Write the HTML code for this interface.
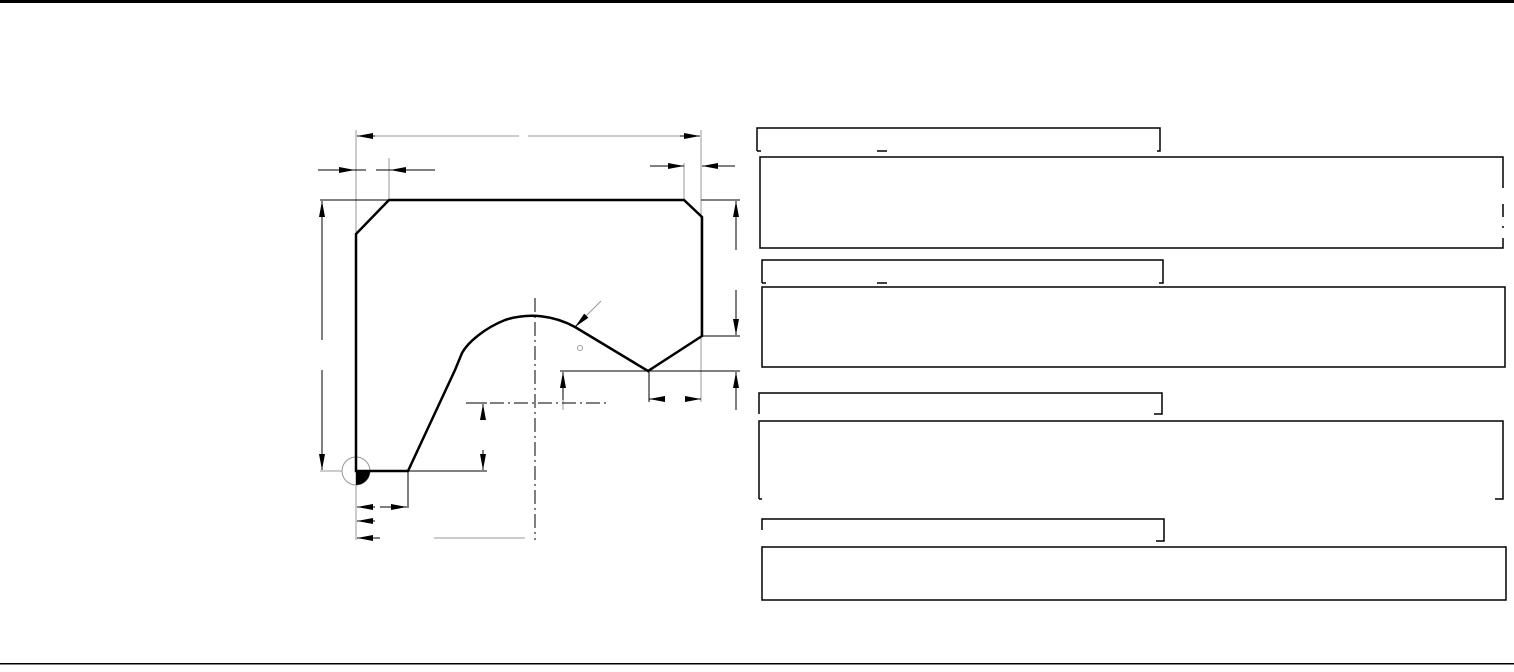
<!DOCTYPE html>
<html><head><meta charset="utf-8"><style>
html,body{margin:0;padding:0;background:#fff;}
svg{display:block;}
</style></head><body>
<svg width="1514" height="672" viewBox="0 0 1514 672" xmlns="http://www.w3.org/2000/svg">
<defs>
<marker id="a" viewBox="0 0 16 6" refX="16" refY="3" markerWidth="16" markerHeight="6" markerUnits="userSpaceOnUse" orient="auto"><path d="M0,0 L16,3 L0,6z" fill="#000"/></marker>
</defs>
<rect x="0" y="0" width="1514" height="3" fill="#000"/>
<rect x="0" y="663" width="1514" height="1.5" fill="#000"/>

<g stroke="#999" stroke-width="1" fill="none">
<line x1="356" y1="130" x2="356" y2="540"/>
<line x1="701" y1="130" x2="701" y2="402"/>
<line x1="357" y1="136" x2="519" y2="136"/>
<line x1="528" y1="136" x2="700" y2="136"/>
<line x1="389" y1="158" x2="389" y2="200"/>
<line x1="684" y1="163" x2="684" y2="200"/>
<line x1="563" y1="385" x2="563" y2="410"/>
<line x1="434" y1="538" x2="525" y2="538"/>
<circle cx="356" cy="471" r="14"/>
<line x1="342" y1="471" x2="320" y2="471"/>
<line x1="718" y1="166" x2="735" y2="166"/>
<line x1="601" y1="301" x2="585" y2="317"/>
<circle cx="580" cy="348" r="2.5"/>
</g>
<path d="M356,471 L370,471 A14,14 0 0 1 356,485 Z" fill="#000"/>

<g stroke="#000" stroke-width="1" fill="none">
<line x1="375" y1="136" x2="357" y2="136" marker-end="url(#a)"/>
<line x1="680" y1="136" x2="700" y2="136" marker-end="url(#a)"/>
<line x1="318" y1="170" x2="355" y2="170" marker-end="url(#a)"/>
<line x1="355" y1="170" x2="366" y2="170"/>
<line x1="435" y1="170" x2="390" y2="170" marker-end="url(#a)"/>
<line x1="376" y1="170" x2="390" y2="170"/>
<line x1="650" y1="166" x2="684" y2="166" marker-end="url(#a)"/>
<line x1="735" y1="166" x2="702" y2="166" marker-end="url(#a)"/>
<line x1="320" y1="200" x2="389" y2="200"/>
<line x1="322" y1="340" x2="322" y2="201" marker-end="url(#a)"/>
<line x1="322" y1="370" x2="322" y2="470" marker-end="url(#a)"/>
<line x1="701" y1="200" x2="740" y2="200"/>
<line x1="736" y1="250" x2="736" y2="201" marker-end="url(#a)"/>
<line x1="736" y1="290" x2="736" y2="335" marker-end="url(#a)"/>
<line x1="702" y1="336" x2="740" y2="336"/>
<line x1="560" y1="371" x2="740" y2="371"/>
<line x1="736" y1="410" x2="736" y2="372" marker-end="url(#a)"/>
<line x1="563" y1="400" x2="563" y2="372" marker-end="url(#a)"/>
<line x1="649" y1="371" x2="649" y2="402"/>
<line x1="665" y1="399" x2="649" y2="399" marker-end="url(#a)"/>
<line x1="685" y1="399" x2="701" y2="399" marker-end="url(#a)"/>
<line x1="408" y1="471" x2="487" y2="471"/>
<line x1="466" y1="403" x2="487" y2="403"/>
<line x1="483" y1="420" x2="483" y2="404" marker-end="url(#a)"/>
<line x1="483" y1="450" x2="483" y2="470" marker-end="url(#a)"/>
<line x1="408" y1="472" x2="408" y2="508"/>
<line x1="375" y1="507" x2="357" y2="507" marker-end="url(#a)"/>
<line x1="380" y1="507" x2="407" y2="507" marker-end="url(#a)"/>
<line x1="375" y1="521" x2="357" y2="521" marker-end="url(#a)"/>
<line x1="380" y1="538" x2="357" y2="538" marker-end="url(#a)"/>
<line x1="586" y1="316" x2="575" y2="327" marker-end="url(#a)"/>
</g>
<g stroke="#000" stroke-width="1" fill="none" stroke-dasharray="14,4,2,4">
<line x1="535" y1="298" x2="535" y2="540"/>
<line x1="466" y1="403" x2="610" y2="403"/>
</g>

<path d="M389,200 L684,200 L702,217 L702,336 L648,371 L575,327 C555,316 530,312 505,320 C485,328 468,342 462,353 L455,370 L408,471 L356,471 L356,234 Z" fill="none" stroke="#000" stroke-width="2.5" stroke-linejoin="miter"/>

<g stroke="#000" stroke-width="1.5" fill="none">
<path d="M757,151 V128 H1160 V151 H1157"/>
<path d="M757,151 H761"/>
<path d="M877,151 H887"/>
<path d="M1503,188 V157 H760 V248 H1503 V238"/>
<path d="M1503,217 V204"/>
<path d="M1503,228 V226"/>

<path d="M762,283 V260 H1163 V283 H1159"/>
<path d="M762,283 H766"/>
<path d="M877,283 H887"/>
<rect x="762" y="287" width="743" height="80"/>

<path d="M759,414 V393 H1162 V414 H1154"/>
<path d="M759,499 V421 H1503 V499 H1495"/>
<path d="M759,499 H762"/>

<path d="M762,530 V519 H1164 V541 H1156"/>
<rect x="762" y="547" width="744" height="53"/>
</g>
</svg>
</body></html>
